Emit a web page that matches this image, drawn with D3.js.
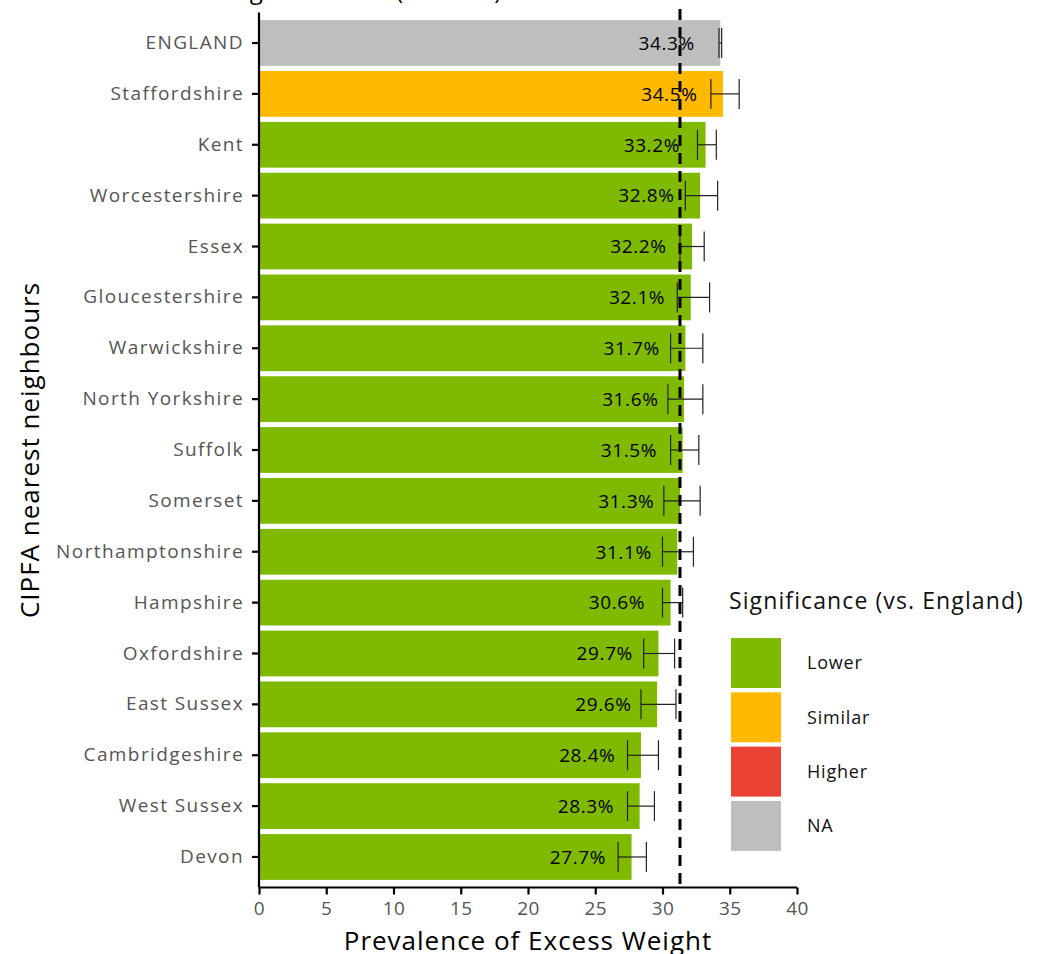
<!DOCTYPE html>
<html><head><meta charset="utf-8">
<script src="https://cdn.jsdelivr.net/npm/d3@7"></script>
<style>body{margin:0;background:#fff}svg{display:block}</style>
</head><body>
<script>
const areas = ["ENGLAND","Staffordshire","Kent","Worcestershire","Essex","Gloucestershire","Warwickshire","North Yorkshire","Suffolk","Somerset","Northamptonshire","Hampshire","Oxfordshire","East Sussex","Cambridgeshire","West Sussex","Devon"];
const values = [34.3,34.5,33.2,32.8,32.2,32.1,31.7,31.6,31.5,31.3,31.1,30.6,29.7,29.6,28.4,28.3,27.7];
const lowerCI = [34.2,33.6,32.6,31.7,31.3,31.1,30.6,30.4,30.6,30.1,30.0,30.0,28.6,28.4,27.4,27.4,26.7];
const upperCI = [34.4,35.7,34.0,34.1,33.1,33.5,33.0,33.0,32.7,32.8,32.3,31.5,30.9,31.0,29.7,29.4,28.8];
const significance = ["NA","Similar","Lower","Lower","Lower","Lower","Lower","Lower","Lower","Lower","Lower","Lower","Lower","Lower","Lower","Lower","Lower"];
const sigLevels = ["Lower","Similar","Higher","NA"];
const sigColors = ["#7FBA00","#FFB900","#EA4335","#BEBEBE"];
const referenceLine = 31.3;
const xTicks = [0,5,10,15,20,25,30,35,40];

const W=1037,H=954;
const font="'Open Sans', sans-serif";
const svg=d3.select("body").append("svg").attr("width",W).attr("height",H).style("font-family",font);

const x=d3.scaleLinear().domain([0,40]).range([259,797]);
const y=d3.scaleBand().domain(areas).range([12.5,887.5]).paddingInner(0.1).paddingOuter(0.15);
const color=d3.scaleOrdinal().domain(sigLevels).range(sigColors);
const data=areas.map((a,i)=>({a,v:values[i],lo:lowerCI[i],hi:upperCI[i],s:significance[i]}));

// title (cut off at top)
svg.append("text").attr("x",128).attr("y",-1).attr("font-size",24).attr("fill","#000").text("Excess Weight in Adults (2022/23)");

// bars
svg.append("g").selectAll("rect").data(data).join("rect")
  .attr("x",x(0)).attr("y",d=>y(d.a)).attr("width",d=>x(d.v)-x(0)).attr("height",y.bandwidth())
  .attr("fill",d=>color(d.s));

// value labels
svg.append("g").selectAll("text").data(data).join("text")
  .attr("x",d=>x(d.v-1.9)).attr("y",d=>y(d.a)+y.bandwidth()/2).attr("dy","0.36em")
  .attr("text-anchor","end").attr("font-size",19).attr("letter-spacing",0.6).attr("fill","#000")
  .text(d=>d.v.toFixed(1)+"%");

// error bars
const eb=svg.append("g").attr("stroke","#222").attr("stroke-width",1.2).attr("fill","none");
data.forEach(d=>{
  const cy=y(d.a)+y.bandwidth()/2, h=15;
  eb.append("line").attr("x1",x(d.lo)).attr("x2",x(d.hi)).attr("y1",cy).attr("y2",cy);
  eb.append("line").attr("x1",x(d.lo)).attr("x2",x(d.lo)).attr("y1",cy-h).attr("y2",cy+h);
  eb.append("line").attr("x1",x(d.hi)).attr("x2",x(d.hi)).attr("y1",cy-h).attr("y2",cy+h);
});

// reference line
svg.append("line").attr("x1",x(referenceLine)).attr("x2",x(referenceLine)).attr("y1",9).attr("y2",887.5)
  .attr("stroke","#000").attr("stroke-width",3).attr("stroke-dasharray","11,7");

// axes
const xa=svg.append("g").attr("transform","translate(0,887.5)")
  .call(d3.axisBottom(x).tickValues(xTicks).tickSize(7).tickPadding(7).tickFormat(d3.format("d")));
const ya=svg.append("g").attr("transform","translate(259,0)")
  .call(d3.axisLeft(y).tickSize(7).tickPadding(8));
[xa,ya].forEach(g=>{
  g.select(".domain").attr("stroke","#000").attr("stroke-width",2.2);
  g.selectAll(".tick line").attr("stroke","#000").attr("stroke-width",2.2);
  g.selectAll(".tick text").attr("fill","#555").attr("font-size",19).attr("letter-spacing",1.4).style("font-family",font);
});
xa.selectAll(".tick text").attr("letter-spacing",0.5);
ya.select(".domain").attr("d","M0,12.5V887.5");
xa.select(".domain").attr("d","M259,0H797");

// axis titles
svg.append("text").attr("x",528).attr("y",950).attr("text-anchor","middle").attr("font-size",26).attr("letter-spacing",1).attr("fill","#000").text("Prevalence of Excess Weight");
svg.append("text").attr("transform","translate(39,450) rotate(-90)").attr("text-anchor","middle").attr("font-size",26).attr("letter-spacing",1).attr("fill","#000").text("CIPFA nearest neighbours");

// legend
const lg=svg.append("g");
lg.append("text").attr("x",729).attr("y",609).attr("font-size",23).attr("letter-spacing",1.1).attr("fill","#111").text("Significance (vs. England)");
sigLevels.forEach((s,i)=>{
  lg.append("rect").attr("x",731).attr("y",638+i*54.3).attr("width",50).attr("height",50).attr("fill",color(s));
  lg.append("text").attr("x",807).attr("y",663+i*54.3).attr("dy","0.36em").attr("font-size",18).attr("letter-spacing",0.8).attr("fill","#111").text(s);
});
</script>
</body></html>
